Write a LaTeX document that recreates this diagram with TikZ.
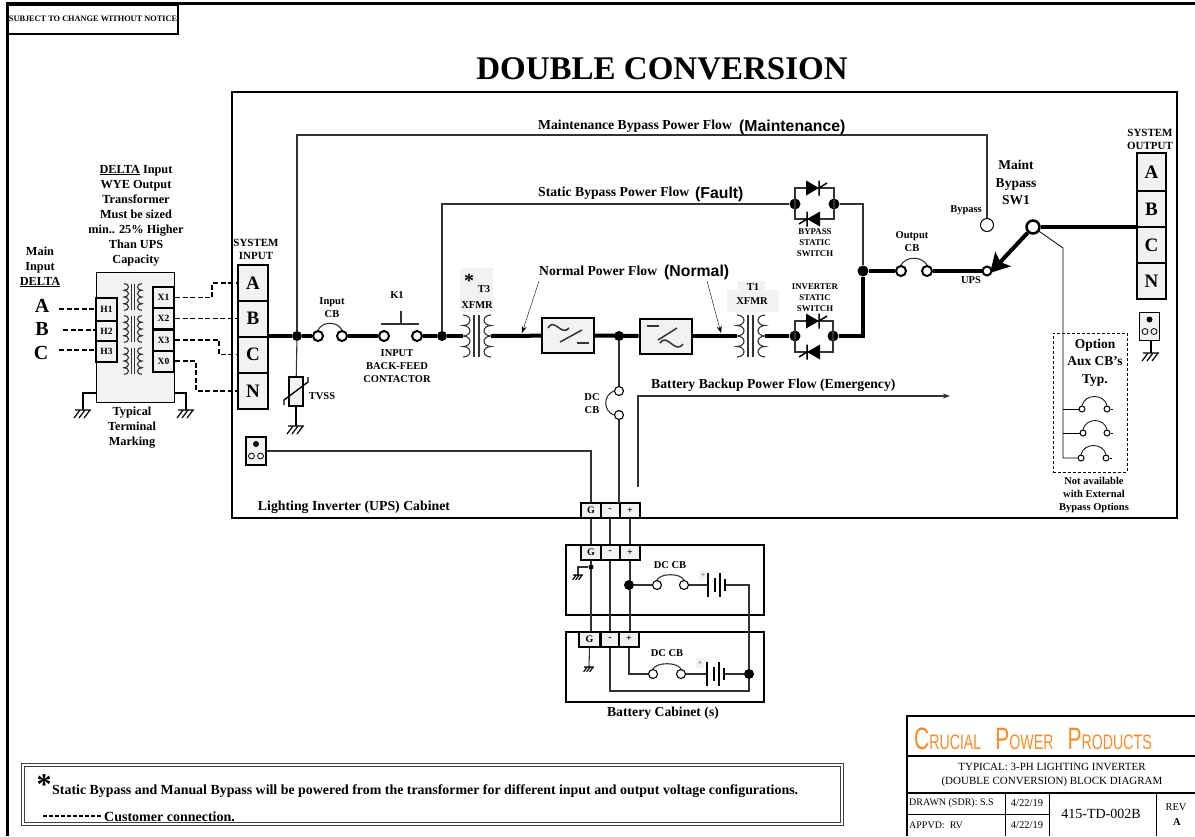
\documentclass[tikz,border=0pt]{standalone}
\usepackage{fontspec}
\usepackage{graphicx}
\setmainfont{Liberation Serif}
\newfontfamily\flowfont{Liberation Sans}
\usetikzlibrary{arrows.meta}
\definecolor{logoorange}{RGB}{247,140,40}
\tikzset{
  thinwire/.style={line width=1.1,draw=black!80},
  buswire/.style={line width=4,draw=black},
  custwire/.style={line width=1.6,dash pattern=on 5pt off 2.5pt},
  txtS/.style={font=\bfseries\fontsize{8.8}{11}\selectfont,align=center,inner sep=0},
  txtM/.style={font=\bfseries\fontsize{10.5}{13}\selectfont,align=center,inner sep=0},
  txtL/.style={font=\bfseries\fontsize{12.3}{15}\selectfont,align=center,inner sep=0},
  flowtxt/.style={font=\bfseries\fontsize{13.7}{15}\selectfont,anchor=west,inner sep=0},
  tagtxt/.style={font=\flowfont\bfseries\fontsize{15.8}{17}\selectfont,anchor=west,inner sep=0},
  termcell/.style={draw,line width=2,fill=gray!10,inner sep=0,font=\bfseries\fontsize{19}{20}\selectfont,minimum width=30,minimum height=36},
  hxcell/.style={draw,line width=2,fill=gray!10,inner sep=0,font=\bfseries\fontsize{9.5}{10}\selectfont,minimum width=21,minimum height=21},
  dccell/.style={draw,line width=2,fill=gray!10,inner sep=0,font=\bfseries\fontsize{10}{10}\selectfont,minimum width=20,minimum height=15},
  convbox/.style={draw,line width=2,fill=gray!10,minimum width=52,minimum height=35,inner sep=0},
  ringnode/.style={circle,draw,line width=2,fill=white,minimum size=10,inner sep=0},
  ringsmall/.style={circle,draw,line width=1,fill=white,minimum size=6,inner sep=0},
  dotnode/.style={circle,fill=black,minimum size=10,inner sep=0},
  plugbox/.style={draw,line width=1.5,fill=gray!10,minimum width=20,minimum height=28,inner sep=0},
  xfmrsym/.pic={
    \draw[thinwire] (-14,-21) arc[start angle=90,end angle=-90,x radius=7pt,y radius=5.25pt]
      arc[start angle=90,end angle=-90,x radius=7pt,y radius=5.25pt]
      arc[start angle=90,end angle=-90,x radius=7pt,y radius=5.25pt]
      arc[start angle=90,end angle=-90,x radius=7pt,y radius=5.25pt];
    \draw[thinwire] (14,-21) arc[start angle=90,end angle=270,x radius=7pt,y radius=5.25pt]
      arc[start angle=90,end angle=270,x radius=7pt,y radius=5.25pt]
      arc[start angle=90,end angle=270,x radius=7pt,y radius=5.25pt]
      arc[start angle=90,end angle=270,x radius=7pt,y radius=5.25pt];
    \draw[thinwire] (-3,-21) -- (-3,21) (2,-21) -- (2,21);
  },
  gndsym/.pic={
    \draw[line width=1.2] (-8,0) -- (8,0) (-3,0) -- (-9,8) (2,0) -- (-4,8) (7,0) -- (1,8);
  },
  plugdots/.pic={
    \fill (0,-7) circle (3pt);
    \draw[line width=.8] (-4.5,5) circle (3pt) (4.5,5) circle (3pt);
  },
  scrsym/.pic={
    \fill (-7,-7.5) -- (6,0) -- (-7,7.5) -- cycle;
    \draw[line width=1.5] (6,-7.5) -- (6,7.5) (6,0) -- (14,-5);
  },
  batsym/.pic={
    \draw[line width=1.4] (0,-12) -- (0,12) (7,-7) -- (7,7) (12,-12) -- (12,12) (17,-6) -- (17,6);
  },
}
\begin{document}
\begin{tikzpicture}[x=1pt,y=-1pt]
  \useasboundingbox (0,0) rectangle (1195,836);
  % frame and header
  \draw[line width=3] (1195,3) -- (7,3) -- (7,836);
  \node[draw,line width=2,minimum width=170,minimum height=29,inner sep=0,
    font=\bfseries\fontsize{8.3}{9}\selectfont] (noticeBox) at (93,19) {SUBJECT TO CHANGE WITHOUT NOTICE};
  \node[font=\bfseries\fontsize{33}{36}\selectfont,inner sep=0] (titleTxt) at (662,68.5) {DOUBLE CONVERSION};
  \node[draw,line width=2,minimum width=945,minimum height=426,inner sep=0] (cabinet) at (704.5,304.5) {};

  % input transformer
  \node[draw,line width=.8,fill=gray!10,minimum width=78,minimum height=130,inner sep=0] (inXfmr) at (135,337) {};
  \pic[scale=.64] at (133,297) {xfmrsym};
  \pic[scale=.64] at (133,329) {xfmrsym};
  \pic[scale=.64] at (133,361) {xfmrsym};
  \node[hxcell,minimum height=23] (h1) at (106.5,309.5) {H1};
  \node[hxcell,minimum height=20] (h2) at (106.5,331) {H2};
  \node[hxcell] (h3) at (106.5,351.5) {H3};
  \node[hxcell] (x1) at (163.5,297.5) {X1};
  \node[hxcell] (x2) at (163.5,318.5) {X2};
  \node[hxcell] (x3) at (163.5,340) {X3};
  \node[hxcell] (x0) at (163.5,361) {X0};
  \node[font=\bfseries\fontsize{20}{20}\selectfont,inner sep=0] (phA) at (42,306) {A};
  \node[font=\bfseries\fontsize{20}{20}\selectfont,inner sep=0] (phB) at (42,329) {B};
  \node[font=\bfseries\fontsize{20}{20}\selectfont,inner sep=0] (phC) at (41,353) {C};
  \node[termcell] (inA) at (253,283) {A};
  \node[termcell] (inB) at (253,318.5) {B};
  \node[termcell] (inC) at (253,354.5) {C};
  \node[termcell] (inN) at (253,391) {N};
  \coordinate (dashA) at (59,309);
  \coordinate (dashB) at (63,330);
  \coordinate (dashC) at (59,350);
  \draw[custwire] (dashA) -- (dashA -| h1.west);
  \draw[custwire] (dashB) -- (dashB -| h2.west);
  \draw[custwire] (dashC) -- (dashC -| h3.west);
  \draw[custwire] (x1) -- (212,297.5) |- (inA);
  \draw[custwire] (x2) -- (inB);
  \draw[custwire] (x3) -- (219,340) |- (inC);
  \draw[custwire] (x0) -- (196,361) |- (inN);
  \coordinate (gndL) at (83,410);
  \coordinate (gndR) at (186,410);
  \coordinate (gndTie) at (135,393);
  \draw[line width=1.2] (gndTie -| inXfmr.west) -| (gndL);
  \draw[line width=1.2] (gndTie -| inXfmr.east) -| (gndR);
  \pic at (gndL) {gndsym};
  \pic at (gndR) {gndsym};

  % maintenance switch
  \node[ringnode,minimum size=13,line width=2.5] (sw1) at (1033,227) {};
  \coordinate (upsTip) at (990,273);
  \draw[buswire,-{Stealth[length=19pt,width=21pt,inset=4pt]}] (sw1) -- (upsTip);

  % main path
  \fill[gray!10] (460,268) rectangle (493,312);
  \fill[gray!10] (727,290) rectangle (778,312) (738,281) rectangle (765,290);
  \coordinate (t3L) at (463,336);
  \coordinate (t3R) at (491,336);
  \coordinate (t1L) at (737,336);
  \coordinate (t1R) at (765,336);
  \node[dotnode] (jcIn) at (297,336) {};
  \node[ringnode] (cbInL) at (318,336) {};
  \node[ringnode] (cbInR) at (342,336) {};
  \node[ringnode] (k1L) at (384,336) {};
  \node[ringnode] (k1R) at (417,336) {};
  \node[dotnode] (jcK) at (442,336) {};
  \node[convbox] (rectBox) at (568,335.5) {};
  \node[dotnode] (jcDC) at (619,336) {};
  \node[convbox] (invBox) at (665.5,336) {};
  \node[dotnode,minimum size=11] (dotInvL) at (795,336) {};
  \node[dotnode,minimum size=11] (dotInvR) at (833,336) {};
  \node[dotnode,minimum size=11] (dotBpL) at (795,204) {};
  \node[dotnode,minimum size=11] (dotBpR) at (834,204) {};
  \node[dotnode,minimum size=11] (dotOut) at (863,271) {};
  \node[ringnode] (cbOutL) at (901,271) {};
  \node[ringnode] (cbOutR) at (927,271) {};
  \node[ringnode,minimum size=9] (upsRing) at (987,271) {};
  \node[circle,draw,line width=1,fill=white,minimum size=13,inner sep=0] (bypassRing) at (987,225) {};
  \node[termcell,minimum width=29,minimum height=38] (outA) at (1151.5,172) {A};
  \node[termcell,minimum width=29] (outB) at (1151.5,209) {B};
  \node[termcell,minimum width=29] (outC) at (1151.5,245) {C};
  \node[termcell,minimum width=29] (outN) at (1151.5,281) {N};
  \draw[buswire] (jcIn -| inC.east) -- (jcIn);
  \draw[buswire] (jcIn) -- (cbInL);
  \draw[buswire] (cbInR) -- (k1L);
  \draw[buswire] (k1R) -- (jcK);
  \draw[buswire] (jcK) -- (t3L);
  \draw[buswire] (t3R) -- (rectBox);
  \draw[buswire] (rectBox) -- (invBox);
  \draw[buswire] (invBox) -- (t1L);
  \draw[buswire] (t1R) -- (dotInvL);
  \draw[buswire] (dotInvR) -| (dotOut);
  \draw[buswire] (dotOut) -- (cbOutL);
  \draw[buswire] (cbOutR) -- (upsRing);
  \draw[buswire] (sw1) -- (sw1 -| outC.west);
  \pic at (477,336) {xfmrsym};
  \pic at (751,336) {xfmrsym};
  \draw[thinwire] (cbInL.north) .. controls +(5,-9) and +(-5,-9) .. (cbInR.north);
  \draw[thinwire,line width=1.5] (381,324) -- (419,324) (401,324) -- (401,311);
  \draw[thinwire] (cbOutL.north) .. controls +(5,-9) and +(-5,-9) .. (cbOutR.north);
  % converter glyphs
  \draw[thinwire,line width=1.5] (548,328) .. controls (554,317) and (562,337) .. (569,328);
  \draw[thinwire,line width=1.5] (560,342) -- (582,330);
  \draw[thinwire,line width=1.5] (577,343) -- (589,343);
  \draw[thinwire,line width=1.5] (647,326) -- (659,326);
  \draw[thinwire,line width=1.5] (658,340) -- (677,328);
  \draw[thinwire,line width=1.5] (660,343) .. controls (667,332) and (675,355) .. (683,344);

  % thin bypass paths
  \coordinate (mbTop) at (987,135);
  \draw[thinwire] (jcIn) |- (mbTop) -- (bypassRing);
  \draw[thinwire] (jcK) |- (dotBpL);
  \draw[thinwire] (dotBpR) -| (dotOut);
  % static switches
  \draw[thinwire] (dotBpL.center) |- (814,188) -| (dotBpR.center);
  \draw[thinwire] (dotBpL.center) |- (814,219) -| (dotBpR.center);
  \draw[thinwire] (dotInvL.center) |- (814,321) -| (dotInvR.center);
  \draw[thinwire] (dotInvL.center) |- (814,352) -| (dotInvR.center);
  \pic at (813,188) {scrsym};
  \pic[rotate=180] at (813,219) {scrsym};
  \pic at (813,321) {scrsym};
  \pic[rotate=180] at (813,352) {scrsym};

  % TVSS
  \node[draw,line width=1.1,fill=gray!10,minimum width=14,minimum height=29,inner sep=0] (tvssBox) at (296,391.5) {};
  \coordinate (gndT) at (296,426);
  \draw[thinwire] (jcIn) -- (tvssBox);
  \draw[line width=1.4] (tvssBox) -- (gndT);
  \pic at (gndT) {gndsym};
  \draw[line width=1.4] (284,405) -- (284,400) -- (308,382) -- (308,377);

  % plugs
  \node[plugbox] (plugIn) at (256,451) {};
  \pic at (256,451) {plugdots};
  \node[plugbox] (plugOut) at (1149.5,326.5) {};
  \pic at (1149.5,326.5) {plugdots};
  \coordinate (gndOut) at (1151,353);
  \draw[line width=1.2] (plugOut.south -| gndOut) -- (gndOut);
  \pic at (gndOut) {gndsym};

  % DC feed
  \node[ringnode,line width=1.1,minimum size=9] (dcTop) at (619,391) {};
  \node[ringnode,line width=1.1,minimum size=9] (dcBot) at (619,415) {};
  \draw[thinwire] (jcDC) -- (dcTop);
  \draw[thinwire] (dcTop.west) .. controls (603,395) and (603,411) .. (dcBot.west);
  \coordinate (battStub) at (638,487);
  \coordinate (battTip) at (950,396);
  \draw[thinwire,-{Stealth[length=7pt,width=5pt]}] (battStub) |- (battTip);

  % battery cabinets
  \node[draw,line width=2,minimum width=198,minimum height=70,inner sep=0] (batBoxA) at (665,580) {};
  \node[draw,line width=2,minimum width=198,minimum height=70,inner sep=0] (batBoxB) at (665,667) {};
  \node[dccell] (tG1) at (591,510.5) {G};
  \node[dccell,minimum width=19] (tM1) at (610,510.5) {-};
  \node[dccell] (tP1) at (630,510.5) {+};
  \node[dccell] (tG2) at (591,552.5) {G};
  \node[dccell,minimum width=19] (tM2) at (610,552.5) {-};
  \node[dccell] (tP2) at (630,552.5) {+};
  \node[dccell,minimum width=21] (tG3) at (589.5,639) {G};
  \node[dccell,minimum width=19] (tM3) at (610,639) {-};
  \node[dccell] (tP3) at (629,639) {+};
  \coordinate (dcDrop) at (619,503);
  \draw[thinwire] (dcBot) -- (dcDrop);
  \draw[thinwire] (plugIn.east) -| (tG1.north);
  \begin{scope}[thinwire]
    \draw (tG1.south) -- (tG2.north);
    \draw (tG2.south) -- (tG2.south |- tG3.north);
    \draw (tM1.south) -- (tM2.north);
    \draw (tM2.south) -- (tM2.south |- tM3.north);
    \draw (tP1.south) -- (tP2.north);
    \draw (tP2.south) -- (tP2.south |- tP3.north);
  \end{scope}
  \node[dotnode] (dotBatA) at (629,585) {};
  \node[ringnode,line width=1.1,minimum size=9] (cbAL) at (657,585) {};
  \node[ringnode,line width=1.1,minimum size=9] (cbAR) at (684,585) {};
  \node[dotnode] (dotBatB) at (749,674) {};
  \node[ringnode,line width=1.1,minimum size=9] (cbBL) at (653,674) {};
  \node[ringnode,line width=1.1,minimum size=9] (cbBR) at (681,674) {};
  \coordinate (batAp) at (708,585);
  \coordinate (batAn) at (725,585);
  \coordinate (batBp) at (707,674);
  \coordinate (batBn) at (724,674);
  \coordinate (negCorner) at (749,691);
  \coordinate (gndLow) at (589,667);
  \coordinate (gndHigh) at (578,575);
  \node[dotnode,minimum size=5] (dotGnd) at (591,567) {};
  \begin{scope}[thinwire]
    \draw (dotBatA) -- (cbAL);
    \draw (cbAR) -- (batAp);
    \draw (batAn) -| (dotBatB);
    \draw (tP3.south) |- (cbBL);
    \draw (cbBR) -- (batBp);
    \draw (batBn) -- (dotBatB);
    \draw (tM3.south) |- (negCorner) -- (dotBatB);
    \draw (tG3.south) -- (gndLow);
    \draw (dotGnd) -| (gndHigh);
    \draw (cbAL.north) .. controls +(4,-7) and +(-4,-7) .. (cbAR.north);
    \draw (cbBL.north) .. controls +(4,-7) and +(-4,-7) .. (cbBR.north);
  \end{scope}
  \pic[scale=.6] at (gndLow) {gndsym};
  \pic[scale=.6] at (gndHigh) {gndsym};
  \pic at (batAp) {batsym};
  \pic at (batBp) {batsym};
  \fill[gray!10] (699,570) rectangle (707,580) (696,658) rectangle (704,668);
  \node[font=\fontsize{8}{8}\selectfont,inner sep=0,text=black!70] (plusA) at (703,575) {+};
  \node[font=\fontsize{8}{8}\selectfont,inner sep=0,text=black!70] (plusB) at (700,663) {+};

  % option CBs
  \coordinate (auxKnee) at (1063,248);
  \node[ringsmall] (aux1L) at (1082,409) {};
  \node[ringsmall] (aux1R) at (1107,409) {};
  \node[ringsmall] (aux2L) at (1083,433) {};
  \node[ringsmall] (aux2R) at (1107,433) {};
  \node[ringsmall] (aux3L) at (1081,458) {};
  \node[ringsmall] (aux3R) at (1106,458) {};
  \draw[line width=.8] (sw1) -- (auxKnee) |- (aux3L);
  \draw[line width=.8] (auxKnee |- aux1L) -- (aux1L);
  \draw[line width=.8] (auxKnee |- aux2L) -- (aux2L);
  \draw[line width=.8] (aux1R) -- ++(6,0);
  \draw[line width=.8] (aux2R) -- ++(6,0);
  \draw[line width=.8] (aux3R) -- ++(6,0);
  \draw[line width=.8] (aux1L.north) .. controls +(3,-12) and +(-3,-12) .. (aux1R.north);
  \draw[line width=.8] (aux2L.north) .. controls +(3,-12) and +(-3,-12) .. (aux2R.north);
  \draw[line width=.8] (aux3L.north) .. controls +(3,-12) and +(-3,-12) .. (aux3R.north);
  \node[draw,line width=.9,densely dashed,minimum width=74,minimum height=139,inner sep=0] (optBox) at (1090,402.5) {};

  % labels
  \node[txtL] (lblMain) at (40,267) {Main\\Input\\\underline{DELTA}};
  \node[txtL] (lblDelta) at (136,215.5) {\underline{DELTA} Input\\WYE Output\\Transformer\\Must be sized\\min.. 25\% Higher\\Than UPS\\Capacity};
  \node[txtL] (lblTyp) at (132,428) {Typical\\Terminal\\Marking};
  \node[txtM,font=\bfseries\fontsize{11}{13}\selectfont] (lblSysIn) at (256,249.5) {SYSTEM\\INPUT};
  \node[txtM,font=\bfseries\fontsize{11}{13}\selectfont] (lblSysOut) at (1150,139) {SYSTEM\\OUTPUT};
  \node[txtM] (lblInCB) at (332,308) {Input\\CB};
  \node[txtM] (lblK1) at (397,295) {K1};
  \node[txtM] (lblK1b) at (397,366) {INPUT\\BACK-FEED\\CONTACTOR};
  \node[txtM] (lblTVSS) at (322,396) {TVSS};
  \node[txtM] (lblT3) at (484,289) {T3};
  \node[font=\bfseries\fontsize{20}{20}\selectfont,inner sep=0] (lblStar) at (469,281) {*};
  \node[txtM] (lblX3) at (477,305) {XFMR};
  \node[txtM] (lblT1) at (753,287) {T1};
  \node[txtM] (lblX1) at (752,301) {XFMR};
  \node[txtS] (lblBpS) at (815,243) {BYPASS\\STATIC\\SWITCH};
  \node[txtS] (lblInvS) at (815,298) {INVERTER\\STATIC\\SWITCH};
  \node[txtM] (lblOutCB) at (912,241.5) {Output\\CB};
  \node[txtS,font=\bfseries\fontsize{10.5}{11}\selectfont] (lblBypass) at (966,210) {Bypass};
  \node[txtS,font=\bfseries\fontsize{10.5}{11}\selectfont] (lblUPS) at (971,280) {UPS};
  \node[txtL,font=\bfseries\fontsize{13.5}{17.5}\selectfont] (lblSW1) at (1016,182.5) {Maint\\Bypass\\SW1};
  \node[txtL,font=\bfseries\fontsize{13.5}{17.5}\selectfont] (lblOpt) at (1095,362.5) {Option\\Aux CB's\\Typ.};
  \node[txtM] (lblNA) at (1094,494.5) {Not available\\with External\\Bypass Options};
  \node[txtM] (lblDC) at (592,403.5) {DC\\CB};
  \node[txtM] (lblCbA) at (670,565) {DC CB};
  \node[txtM] (lblCbB) at (667,653) {DC CB};
  \node[txtL,font=\bfseries\fontsize{13.7}{15}\selectfont] (lblBat) at (663,713) {Battery Cabinet (s)};
  \node[txtL,font=\bfseries\fontsize{13.8}{15}\selectfont] (lblUPSCab) at (354,507) {Lighting Inverter (UPS) Cabinet};
  \node[flowtxt] (flowM) at (538,126) {Maintenance Bypass Power Flow};
  \node[tagtxt] (tagM) at (739,127) {(Maintenance)};
  \node[flowtxt] (flowS) at (538,193.5) {Static Bypass Power Flow};
  \node[tagtxt] (tagS) at (695,194.5) {(Fault)};
  \node[flowtxt] (flowN) at (539,271) {Normal Power Flow};
  \node[tagtxt] (tagN) at (664,272.5) {(Normal)};
  \node[flowtxt] (flowB) at (651,385) {Battery Backup Power Flow (Emergency)};
  \coordinate (flowNtail) at (539,281);
  \coordinate (flowNhead) at (522,333);
  \coordinate (tagNtail) at (707,281);
  \coordinate (tagNhead) at (721,333);
  \draw[-{Stealth[length=7pt,width=5pt]}] (flowNtail) -- (flowNhead);
  \draw[-{Stealth[length=7pt,width=5pt]}] (tagNtail) -- (tagNhead);

  % note box
  \node[draw=black!75,double,line width=.9,double distance=1.5,minimum width=819,minimum height=59,inner sep=0] (noteBox) at (432.5,794.5) {};
  \node[font=\bfseries\fontsize{30}{30}\selectfont,inner sep=0] (noteStar) at (44,785) {*};
  \node[font=\bfseries\fontsize{13.9}{15}\selectfont,inner sep=0,anchor=west] (noteTxt) at (52,791) {Static Bypass and Manual Bypass will be powered from the transformer for different input and output voltage configurations.};
  \coordinate (legL) at (43,816);
  \coordinate (legR) at (102,816);
  \draw[custwire,dash pattern=on 4pt off 2pt] (legL) -- (legR);
  \node[font=\bfseries\fontsize{14}{15}\selectfont,inner sep=0,anchor=west] (noteCust) at (104,817) {Customer connection.};

  % title block
  \draw[line width=2.5] (1195,716) -- (907,716) -- (907,836);
  \draw[line width=1.2] (907,756) -- (1195,756) (907,793) -- (1195,793);
  \draw[line width=.9] (1005,793) -- (1005,836) (1049,793) -- (1049,836) (1156,793) -- (1156,836);
  \draw[line width=.9] (907,814) -- (1049,814);
  \node[font=\flowfont,text=logoorange,inner sep=0,anchor=west] (logoTxt) at (914,739)
    {\scalebox{.675}[1]{\fontsize{31}{31}\selectfont C\fontsize{21}{21}\selectfont RUCIAL\hspace{21pt}\fontsize{31}{31}\selectfont P\fontsize{21}{21}\selectfont OWER\hspace{21pt}\fontsize{31}{31}\selectfont P\fontsize{21}{21}\selectfont RODUCTS}};
  \node[font=\fontsize{11}{14}\selectfont,align=center,inner sep=0] (tbHead) at (1052,775) {TYPICAL: 3-PH LIGHTING INVERTER\\(DOUBLE CONVERSION) BLOCK DIAGRAM};
  \node[font=\fontsize{10}{11}\selectfont,inner sep=0,anchor=west] (tbDrawn) at (909,803) {DRAWN (SDR): S.S};
  \node[font=\fontsize{10}{11}\selectfont,inner sep=0,anchor=west] (tbAppvd) at (909,825) {APPVD:\ \ RV};
  \node[font=\fontsize{10.5}{11}\selectfont,inner sep=0] (tbDateA) at (1027,803) {4/22/19};
  \node[font=\fontsize{10.5}{11}\selectfont,inner sep=0] (tbDateB) at (1027,825) {4/22/19};
  \node[font=\fontsize{14}{14}\selectfont,inner sep=0] (tbNum) at (1101,814) {415-TD-002B};
  \node[font=\fontsize{10.5}{11}\selectfont,inner sep=0] (tbRev) at (1176,807) {REV};
  \node[font=\bfseries\fontsize{10.5}{11}\selectfont,inner sep=0] (tbRevA) at (1177,822) {A};
\end{tikzpicture}
\end{document}
